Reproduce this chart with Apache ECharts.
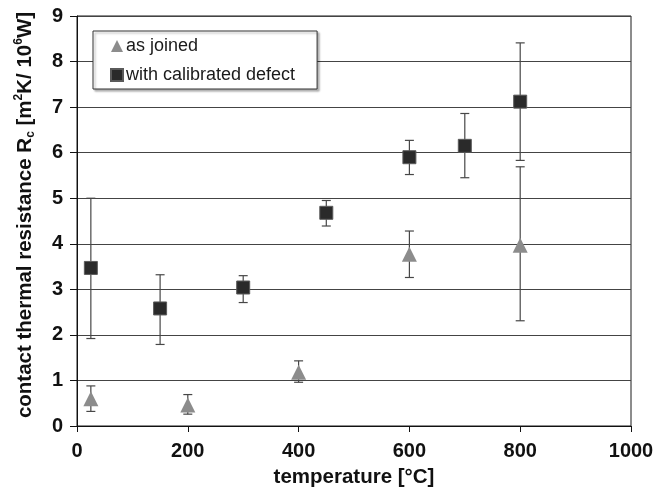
<!DOCTYPE html>
<html>
<head>
<meta charset="utf-8">
<script src="https://cdn.jsdelivr.net/npm/echarts@6/dist/echarts.min.js"></script>
<style>
html,body{margin:0;padding:0;background:#fff;}
#chart{width:668px;height:493px;}
</style>
</head>
<body>
<div id="chart"></div>
<script>
// ---- data ----
const xTicks = [0, 200, 400, 600, 800, 1000];
const yTicks = [0, 1, 2, 3, 4, 5, 6, 7, 8, 9];

const tempJoined = [25, 200, 400, 600, 800];
const rJoined = [0.6, 0.46, 1.18, 3.77, 3.97];
const errLowJoined = [0.32, 0.26, 0.96, 3.26, 2.31];
const errHighJoined = [0.88, 0.69, 1.43, 4.28, 5.69];

const tempDefect = [25, 150, 300, 450, 600, 700, 800];
const rDefect = [3.47, 2.58, 3.04, 4.68, 5.9, 6.15, 7.12];
const errLowDefect = [1.92, 1.79, 2.71, 4.39, 5.52, 5.45, 5.83];
const errHighDefect = [5.0, 3.32, 3.3, 4.95, 6.27, 6.86, 8.41];

const seriesNames = ['as joined', 'with calibrated defect'];
const xName = 'temperature [°C]';

const FONT = '"Liberation Sans", Arial, sans-serif';

function pairs(xs, ys) { return xs.map((x, i) => [x, ys[i]]); }
function triples(xs, lo, hi) { return xs.map((x, i) => [x, lo[i], hi[i]]); }

function errRender(params, api) {
  const x = api.value(0), lo = api.value(1), hi = api.value(2);
  const pLo = api.coord([x, lo]);
  const pHi = api.coord([x, hi]);
  const hw = 4.5;
  const st = { stroke: '#474747', lineWidth: 1.2 };
  return {
    type: 'group',
    children: [
      { type: 'line', shape: { x1: pLo[0], y1: pLo[1], x2: pHi[0], y2: pHi[1] }, style: st },
      { type: 'line', shape: { x1: pLo[0] - hw, y1: pLo[1], x2: pLo[0] + hw, y2: pLo[1] }, style: st },
      { type: 'line', shape: { x1: pHi[0] - hw, y1: pHi[1], x2: pHi[0] + hw, y2: pHi[1] }, style: st }
    ]
  };
}

const chart = echarts.init(document.getElementById('chart'), null, { renderer: 'canvas' });
chart.setOption({
  backgroundColor: '#fff',
  animation: false,
  textStyle: { fontFamily: FONT },
  grid: { left: 77, right: 37, top: 16, bottom: 66, show: true, borderColor: '#1a1a1a', borderWidth: 1 },
  legend: {
    orient: 'vertical',
    left: 93, top: 31,
    padding: [5, 22, 4, 17],
    itemGap: 9,
    itemWidth: 12, itemHeight: 12,
    backgroundColor: '#fff',
    borderColor: '#333', borderWidth: 1, borderRadius: 0,
    shadowColor: 'rgba(0,0,0,0.3)', shadowBlur: 2, shadowOffsetX: 2, shadowOffsetY: 2,
    textStyle: { fontFamily: FONT, fontSize: 18, color: '#1a1a1a', lineHeight: 20, padding: [0, 0, 0, -2] },
    data: [
      { name: seriesNames[0], icon: 'triangle', itemStyle: { color: '#8c8c8c' } },
      { name: seriesNames[1], icon: 'rect', itemStyle: { color: '#2a2a2a' } }
    ]
  },
  xAxis: {
    type: 'value', min: 0, max: 1000, interval: 200,
    name: xName, nameLocation: 'middle', nameGap: 41,
    nameTextStyle: { fontFamily: FONT, fontSize: 20.5, fontWeight: 'bold', color: '#111' },
    axisLine: { show: true, onZero: false, lineStyle: { color: '#111', width: 1 } },
    axisTick: { show: true, inside: false, length: 6, lineStyle: { color: '#111' } },
    axisLabel: { fontFamily: FONT, fontSize: 20, fontWeight: 'bold', color: '#111', margin: 15,
      formatter: v => xTicks.includes(v) ? String(v) : '' },
    splitLine: { show: false }
  },
  yAxis: {
    type: 'value', min: 0, max: 9, interval: 1,
    name: 'contact thermal resistance R{sub|c} [m{sup|2}K/ 10{sup|6}W]',
    nameLocation: 'middle', nameGap: 40, nameRotate: 90,
    nameTextStyle: {
      fontFamily: FONT, fontSize: 20.5, fontWeight: 'bold', color: '#111', lineHeight: 24,
      padding: [0, 0, 0, 12],
      rich: {
        sub: { fontFamily: FONT, fontSize: 12, color: '#111', lineHeight: 11, verticalAlign: 'bottom' },
        sup: { fontFamily: FONT, fontSize: 12, color: '#111', lineHeight: 11, verticalAlign: 'top' }
      }
    },
    axisLine: { show: true, lineStyle: { color: '#111', width: 1 } },
    axisTick: { show: true, inside: false, length: 7, lineStyle: { color: '#111' } },
    axisLabel: { fontFamily: FONT, fontSize: 20, fontWeight: 'bold', color: '#111', margin: 14,
      formatter: v => yTicks.includes(v) ? String(v) : '' },
    splitLine: { show: true, lineStyle: { color: '#444', width: 1 } }
  },
  series: [
    { name: 'err1', type: 'custom', renderItem: errRender, data: triples(tempJoined, errLowJoined, errHighJoined), z: 2, silent: true },
    { name: 'err2', type: 'custom', renderItem: errRender, data: triples(tempDefect, errLowDefect, errHighDefect), z: 2, silent: true },
    { name: seriesNames[0], type: 'scatter', symbol: 'triangle', symbolSize: [15, 15], z: 5,
      itemStyle: { color: '#8c8c8c', opacity: 1 }, data: pairs(tempJoined, rJoined) },
    { name: seriesNames[1], type: 'scatter', symbol: 'rect', symbolSize: 13, z: 5,
      itemStyle: { color: '#2a2a2a', borderColor: '#5a5a5a', borderWidth: 1, opacity: 1 }, data: pairs(tempDefect, rDefect) }
  ]
});
</script>
</body>
</html>
